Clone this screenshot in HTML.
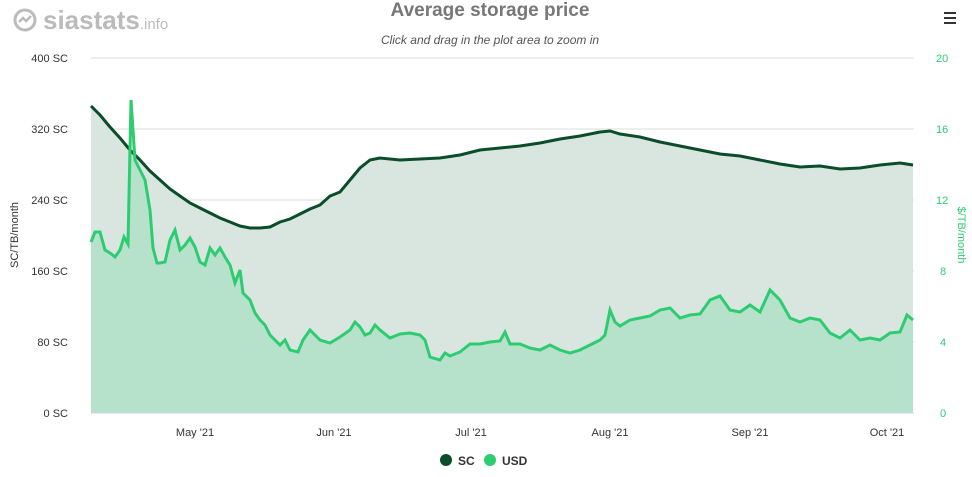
<!DOCTYPE html><html><head><style>body{margin:0;background:#fff;font-family:"Liberation Sans",sans-serif}</style></head><body>
<svg width="972" height="472" xmlns="http://www.w3.org/2000/svg" font-family="Liberation Sans, sans-serif">
<circle cx="25" cy="20" r="10" fill="none" stroke="#bbb" stroke-width="3"/><path d="M19 22 l4 -4 3 3 5 -5" stroke="#bbb" stroke-width="2.5" fill="none"/>
<text x="43" y="29" font-size="26" font-weight="bold" fill="#bbb">siastats<tspan font-size="15" font-weight="normal">.info</tspan></text>
<text x="490" y="16" text-anchor="middle" font-size="19" font-weight="bold" fill="#777">Average storage price</text>
<text x="490" y="44" text-anchor="middle" font-size="12" font-style="italic" fill="#555">Click and drag in the plot area to zoom in</text>
<g fill="#333"><rect x="944" y="12" width="12" height="2"/><rect x="944" y="17" width="12" height="2"/><rect x="944" y="22" width="12" height="2"/></g>
<g stroke="#ddd" stroke-width="1"><line x1="91" x2="914" y1="58" y2="58"/><line x1="91" x2="914" y1="129" y2="129"/><line x1="91" x2="914" y1="200" y2="200"/><line x1="91" x2="914" y1="271" y2="271"/><line x1="91" x2="914" y1="342" y2="342"/></g>
<g font-size="11" fill="#333" text-anchor="end"><text x="68" y="62">400 SC</text><text x="68" y="133">320 SC</text><text x="68" y="204">240 SC</text><text x="68" y="275">160 SC</text><text x="68" y="346">80 SC</text><text x="68" y="417">0 SC</text></g>
<g font-size="11" fill="#2ecc71" text-anchor="start"><text x="936" y="62">20</text><text x="936" y="133">16</text><text x="936" y="204">12</text><text x="940" y="275">8</text><text x="940" y="346">4</text><text x="940" y="417">0</text></g>
<text transform="translate(18,235) rotate(-90)" text-anchor="middle" font-size="11" fill="#333">SC/TB/month</text>
<text transform="translate(958,235) rotate(90)" text-anchor="middle" font-size="11" fill="#2ecc71">$/TB/month</text>
<polygon fill="#d9e6e0" points="91,413 91,106 100,115 110,127 120,138 130,150 140,160 150,171 160,180 170,189 180,196 190,203 200,208 210,213 220,218 230,222 240,226 250,228 260,228 270,227 280,222 290,219 300,214 310,209 320,205 330,196 340,192 350,180 360,168 370,160 380,158 400,160 420,159 440,158 460,155 480,150 500,148 520,146 540,143 560,139 580,136 600,132 610,131 620,134 640,137 660,142 680,146 700,150 720,154 740,156 760,160 780,164 800,167 820,166 840,169 860,168 880,165 900,163 913,165 913,413"/>
<polyline fill="none" stroke="#0b4d2a" stroke-width="3" points="91,106 100,115 110,127 120,138 130,150 140,160 150,171 160,180 170,189 180,196 190,203 200,208 210,213 220,218 230,222 240,226 250,228 260,228 270,227 280,222 290,219 300,214 310,209 320,205 330,196 340,192 350,180 360,168 370,160 380,158 400,160 420,159 440,158 460,155 480,150 500,148 520,146 540,143 560,139 580,136 600,132 610,131 620,134 640,137 660,142 680,146 700,150 720,154 740,156 760,160 780,164 800,167 820,166 840,169 860,168 880,165 900,163 913,165"/>
<polygon fill="#2ecc71" fill-opacity="0.2" points="91,413 91,242 95,232 100,232 105,250 110,253 115,257 120,250 124,237 128,244 131,100 135,160 140,170 145,180 150,210 153,248 157,263 160,263 165,262 170,240 175,230 180,250 185,245 190,238 195,247 200,262 205,265 210,248 215,255 220,248 225,257 230,265 235,283 240,270 243,293 250,300 255,313 260,320 265,325 270,335 280,345 285,340 290,350 298,352 303,340 310,330 320,340 330,343 340,337 350,330 355,322 360,327 365,335 370,333 375,325 380,330 390,338 400,334 410,333 420,335 425,340 430,357 440,360 445,353 450,356 460,352 470,344 480,344 490,342 500,341 505,332 510,344 520,344 530,348 540,350 550,345 560,350 570,353 580,350 590,345 600,340 605,335 610,310 615,322 620,326 630,320 640,318 650,316 660,310 670,308 680,318 690,315 700,314 710,300 720,296 730,310 740,312 750,305 760,312 770,290 780,300 790,318 800,322 810,318 820,320 830,333 840,338 850,330 860,340 870,338 880,340 890,333 900,332 907,315 913,320 913,413"/>
<polyline fill="none" stroke="#2ecc71" stroke-width="3" points="91,242 95,232 100,232 105,250 110,253 115,257 120,250 124,237 128,244 131,100 135,160 140,170 145,180 150,210 153,248 157,263 160,263 165,262 170,240 175,230 180,250 185,245 190,238 195,247 200,262 205,265 210,248 215,255 220,248 225,257 230,265 235,283 240,270 243,293 250,300 255,313 260,320 265,325 270,335 280,345 285,340 290,350 298,352 303,340 310,330 320,340 330,343 340,337 350,330 355,322 360,327 365,335 370,333 375,325 380,330 390,338 400,334 410,333 420,335 425,340 430,357 440,360 445,353 450,356 460,352 470,344 480,344 490,342 500,341 505,332 510,344 520,344 530,348 540,350 550,345 560,350 570,353 580,350 590,345 600,340 605,335 610,310 615,322 620,326 630,320 640,318 650,316 660,310 670,308 680,318 690,315 700,314 710,300 720,296 730,310 740,312 750,305 760,312 770,290 780,300 790,318 800,322 810,318 820,320 830,333 840,338 850,330 860,340 870,338 880,340 890,333 900,332 907,315 913,320"/>
<line x1="91" x2="914" y1="413" y2="413" stroke="#ccd6eb"/>
<g font-size="11" fill="#333" text-anchor="middle"><text x="195" y="436">May '21</text><text x="334" y="436">Jun '21</text><text x="471" y="436">Jul '21</text><text x="610" y="436">Aug '21</text><text x="750" y="436">Sep '21</text><text x="887" y="436">Oct '21</text></g>
<circle cx="446" cy="460" r="6" fill="#0b4d2a"/><text x="458" y="465" font-size="12" font-weight="bold" fill="#333">SC</text>
<circle cx="490" cy="460" r="6" fill="#2ecc71"/><text x="502" y="465" font-size="12" font-weight="bold" fill="#333">USD</text>
</svg></body></html>
